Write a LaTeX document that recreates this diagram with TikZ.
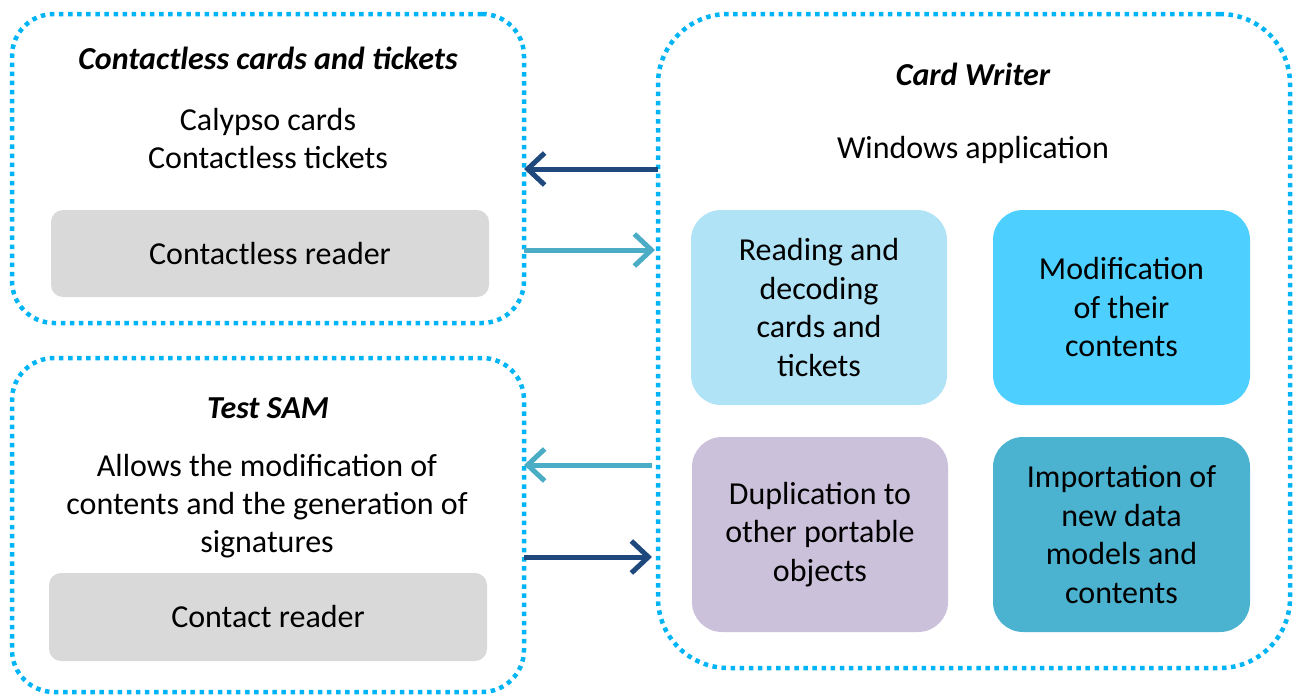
\documentclass[tikz,border=0pt]{standalone}
\usepackage{fontspec}
\setmainfont{Carlito}
\usetikzlibrary{arrows.meta}
\definecolor{dotblue}{HTML}{00B4F5}
\definecolor{darkarr}{HTML}{1F497D}
\definecolor{lightarr}{HTML}{4BACC6}
\definecolor{greybox}{HTML}{D9D9D9}
\definecolor{readc}{HTML}{B0E3F5}
\definecolor{modc}{HTML}{4DD0FF}
\definecolor{dupc}{HTML}{CCC1DA}
\definecolor{impc}{HTML}{4BB2D0}
\tikzset{
  dotbox/.style={draw=dotblue, line width=4.5pt, dash pattern=on 4.5pt off 4.6pt, rectangle, inner sep=0pt, outer sep=0pt},
  readerbox/.style={fill=greybox, rectangle, rounded corners=12pt, inner sep=0pt, outer sep=0pt, minimum width=438pt, minimum height=87pt, font=\fontsize{32}{38}\selectfont},
  funcbox/.style={rectangle, rounded corners=30pt, inner sep=0pt, outer sep=0pt, minimum width=256pt, minimum height=195pt, align=center, font=\fontsize{32}{38.5}\selectfont},
  txt/.style={align=center, inner sep=0pt, font=\fontsize{32}{38}\selectfont},
  ttl/.style={align=center, inner sep=0pt, font=\fontsize{32}{38}\selectfont\bfseries\itshape},
  arr/.style={line width=5pt, -{Straight Barb[length=17pt,width=32pt,line width=5pt]}},
  darr/.style={arr, draw=darkarr},
  larr/.style={arr, draw=lightarr},
}
\begin{document}
\begin{tikzpicture}[x=1pt,y=-1pt]
\useasboundingbox (0,0) rectangle (1296,696);
% outer dotted boxes
\node[dotbox, rounded corners=42pt, minimum width=512pt, minimum height=309pt] (cc) at (268,168.5) {};
\node[dotbox, rounded corners=42pt, minimum width=512pt, minimum height=334pt] (sam) at (268,525) {};
\node[dotbox, rounded corners=70pt, minimum width=632pt, minimum height=654pt] (cw) at (974,341) {};
% left top box content
\node[ttl] (cctitle) at (268,58) {Contactless cards and tickets};
\node[txt] (cctext) at (268,138.5) {Calypso cards\\Contactless tickets};
\node[readerbox] (rd1) at (270,253.5) {Contactless reader};
% left bottom box content
\node[ttl] (samtitle) at (268,408) {Test SAM};
\node[txt] (samtext) at (267,506.5) {Allows the modification of\\contents and the generation of\\signatures};
\node[readerbox, minimum height=88pt] (rd2) at (268,617) {Contact reader};
% right box content
\node[ttl] (cwtitle) at (973,74) {Card Writer};
\node[txt] (cwtext) at (973,150) {Windows application};
\node[funcbox, fill=readc] (f1) at (819,307.5) {Reading and\\decoding\\cards and\\tickets};
\node[funcbox, fill=modc, minimum width=257pt] (f2) at (1121.5,307.5) {Modification\\of their\\contents};
\node[funcbox, fill=dupc] (f3) at (820,534.5) {Duplication to\\other portable\\objects};
\node[funcbox, fill=impc, minimum width=257pt] (f4) at (1121.5,534.5) {Importation of\\new data\\models and\\contents};
% arrows
\coordinate (y1) at (0,169);
\coordinate (y2) at (0,250);
\coordinate (y3) at (0,465);
\coordinate (y4) at (0,557);
\draw[darr] (cw.west |- y1) -- (cc.east |- y1);
\draw[larr] (cc.east |- y2) -- ([xshift=-3pt]cw.west |- y2);
\draw[larr] ([xshift=-6pt]cw.west |- y3) -- (sam.east |- y3);
\draw[darr] (sam.east |- y4) -- ([xshift=-6pt]cw.west |- y4);
\end{tikzpicture}
\end{document}
